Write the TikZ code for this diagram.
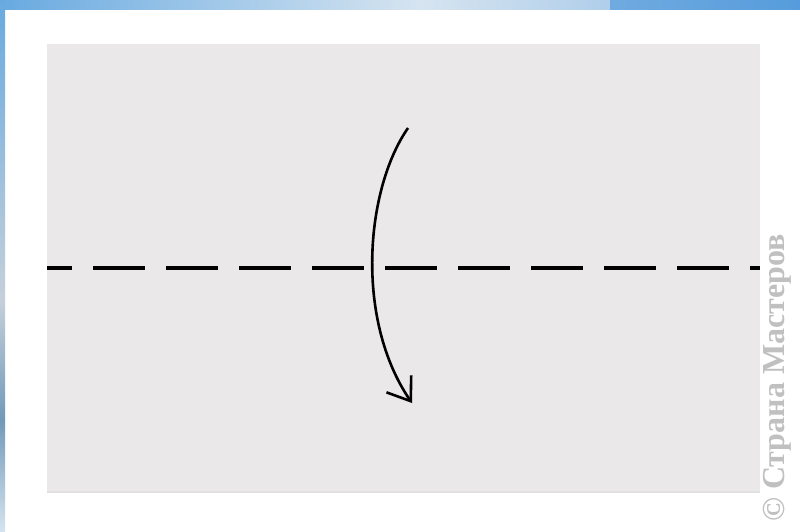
\documentclass[tikz,border=0pt]{standalone}
\usepackage{fontspec}
\newfontfamily\wmfont{Liberation Serif}
\usetikzlibrary{arrows.meta}
\definecolor{paper}{RGB}{234,232,232}
\definecolor{blueA}{RGB}{104,170,224}
\definecolor{blueB}{RGB}{214,228,240}
\definecolor{blueC}{RGB}{86,156,220}
\definecolor{wmgray}{RGB}{192,192,192}
\tikzset{
  foldline/.style={line width=4.5pt, dash pattern=on 52pt off 21pt, dash phase=27pt, black},
  foldarrow/.style={line width=2.6pt, black, -{Straight Barb[length=21pt,width=30pt,line width=2.6pt]}},
  wmtext/.style={font=\wmfont\bfseries\fontsize{32}{32}\selectfont, text=wmgray, rotate=90, inner sep=0pt}
}
\begin{document}
\begin{tikzpicture}[x=1pt,y=-1pt]
\useasboundingbox (0,0) rectangle (800,532);
\fill[white] (0,0) rectangle (800,532);
% blue frame strips
\shade[left color=blueA, right color=blueB] (0,0) rectangle (420,10);
\shade[left color=blueB, right color=blueB!70!blueC] (420,0) rectangle (610,10);
\shade[left color=blueC!80!blueB, right color=blueC] (610,0) rectangle (800,10);
\shade[top color=blueA, bottom color=blueB!80!gray] (0,0) rectangle (5,300);
\shade[top color=blueB!80!gray, bottom color=blueA!60!gray] (0,300) rectangle (5,420);
\shade[top color=blueA!60!gray, bottom color=blueB] (0,420) rectangle (5,532);
% paper
\node[fill=paper, minimum width=713pt, minimum height=449pt, inner sep=0pt, anchor=north west] (paper) at (47,44) {};
\fill[black!12] (paper.south west) ++(0,-2) rectangle (paper.south east);
% fold line
\coordinate (fl) at (47,268);
\coordinate (fr) at (760,268);
\draw[foldline] (fl) -- (fr);
% arrow
\coordinate (as) at (408,128);
\coordinate (ae) at (412,403);
\draw[foldarrow] (as) .. controls (365,190) and (355,320) .. (ae);
% watermark
\node[wmtext] (wm) at (777,378) {© Страна Мастеров};
\end{tikzpicture}
\end{document}
